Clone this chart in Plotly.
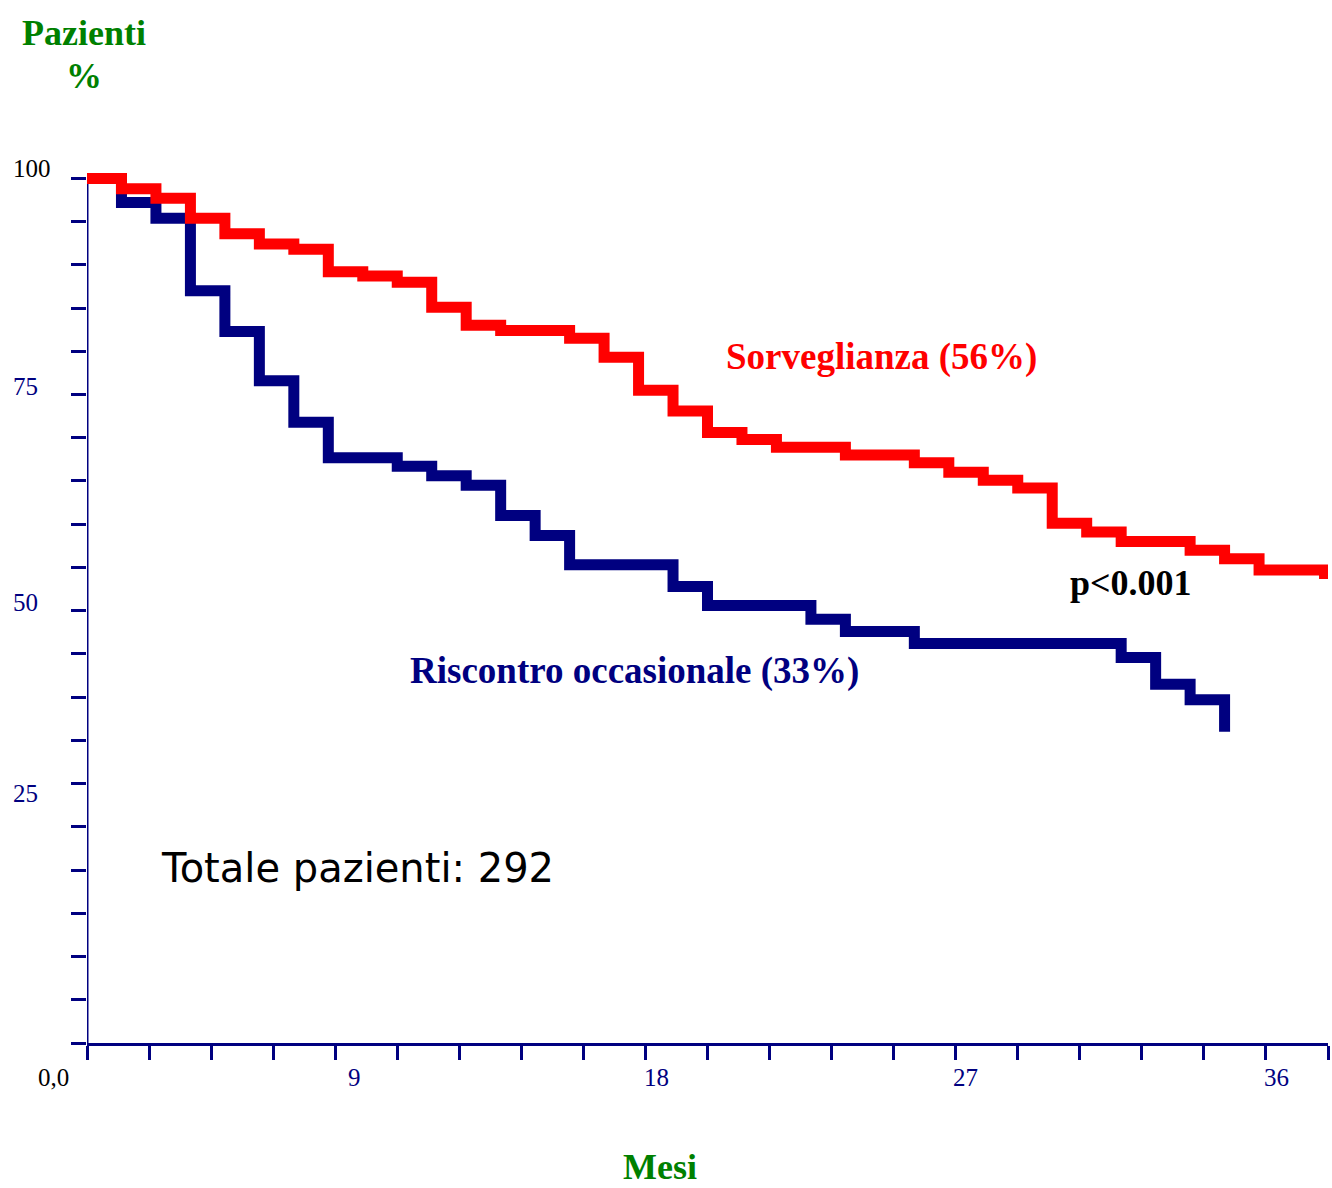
import plotly.graph_objects as go

# ---- data ----
months_sorv = [0, 1, 2, 3, 4, 5, 6, 7, 8, 9, 10, 11, 12, 14, 15, 16, 17, 18, 19, 20,
               22, 24, 25, 26, 27, 28, 29, 30, 32, 33, 34, 35.9, 36]
surv_sorv = [100, 98.8, 97.7, 95.4, 93.6, 92.4, 91.8, 89.2, 88.7, 88.0, 85.1, 83.0, 82.4,
             81.5, 79.3, 75.5, 73.1, 70.6, 69.8, 68.9, 68.0, 67.1, 66.0, 65.1, 64.2,
             60.1, 59.1, 58.0, 57.0, 56.0, 54.7, 54.3, 54.3]

months_occ = [0, 1, 2, 3, 4, 5, 6, 7, 9, 10, 11, 12, 13, 14, 17, 18, 21, 22, 24, 30, 31, 32, 33]
surv_occ = [100, 97.2, 95.4, 87.0, 82.3, 76.6, 71.8, 67.7, 66.7, 65.6, 64.5, 61.0, 58.7,
            55.3, 52.8, 50.6, 49.0, 47.6, 46.2, 44.6, 41.5, 39.7, 36.0]

x_tick_text = ["0,0", "9", "18", "27", "36"]
x_tick_label_px = [53, 354, 656, 965, 1276]
y_tick_text = ["100", "75", "50", "25"]
y_tick_label_pos = [101.2, 75.95, 50.9, 28.9]

NAVY = "#000080"
RED = "#FF0000"
GREEN = "#008000"
SERIF = "Liberation Serif, Times New Roman, serif"

W, H = 1332, 1188
L, R, T, B = 87, 4, 168, 145
PW, PH = W - L - R, H - T - B


def px_x(px):
    return (px - L) / PW


def px_y(py):
    return (H - B - py) / PH


fig = go.Figure()
fig.add_trace(go.Scatter(x=months_occ, y=surv_occ, mode="lines",
                         line=dict(color=NAVY, width=11, shape="hv"),
                         showlegend=False, hoverinfo="skip"))
fig.add_trace(go.Scatter(x=months_sorv, y=surv_sorv, mode="lines",
                         line=dict(color=RED, width=11, shape="hv"),
                         showlegend=False, hoverinfo="skip"))

fig.update_xaxes(range=[0, 36], tick0=0, dtick=1.8, ticks="outside", ticklen=14,
                 tickwidth=3, tickcolor=NAVY, showticklabels=False, showgrid=False,
                 zeroline=False, showline=True, linecolor=NAVY, linewidth=3)
fig.update_yaxes(range=[0, 101.2], tick0=0, dtick=5, ticks="outside", ticklen=15,
                 tickwidth=3, tickcolor=NAVY, showticklabels=False, showgrid=False,
                 zeroline=False, showline=False)

# y axis line from 0 to 100
fig.add_shape(type="line", xref="x", yref="y", x0=0, x1=0, y0=0, y1=100,
              line=dict(color=NAVY, width=3), layer="below")

ann = []
for t, p in zip(x_tick_text, x_tick_label_px):
    ann.append(dict(x=px_x(p), y=px_y(1077), xref="paper", yref="paper", text=t, showarrow=False,
                    xanchor="center", yanchor="middle",
                    font=dict(family=SERIF, size=25, color="black" if t == "0,0" else NAVY)))
for t, p in zip(y_tick_text, y_tick_label_pos):
    ann.append(dict(x=0, y=p, xref="paper", yref="y", text=t, showarrow=False,
                    xanchor="center", yanchor="middle", xshift=-55 if t == "100" else -62,
                    font=dict(family=SERIF, size=25, color="black" if t == "100" else NAVY)))

ann.append(dict(x=px_x(84), y=px_y(33), xref="paper", yref="paper", text="<b>Pazienti</b>",
                showarrow=False, xanchor="center", yanchor="middle",
                font=dict(family=SERIF, size=36, color=GREEN)))
ann.append(dict(x=px_x(84), y=px_y(76), xref="paper", yref="paper", text="<b>%</b>",
                showarrow=False, xanchor="center", yanchor="middle",
                font=dict(family=SERIF, size=36, color=GREEN)))
ann.append(dict(x=px_x(660), y=px_y(1167), xref="paper", yref="paper", text="<b>Mesi</b>",
                showarrow=False, xanchor="center", yanchor="middle",
                font=dict(family=SERIF, size=36, color=GREEN)))
ann.append(dict(x=23.06, y=79.3, xref="x", yref="y", text="<b>Sorveglianza (56%)</b>",
                showarrow=False, xanchor="center", yanchor="middle",
                font=dict(family=SERIF, size=37, color=RED)))
ann.append(dict(x=15.88, y=43.0, xref="x", yref="y", text="<b>Riscontro occasionale (33%)</b>",
                showarrow=False, xanchor="center", yanchor="middle",
                font=dict(family=SERIF, size=37, color=NAVY)))
ann.append(dict(x=30.29, y=53.2, xref="x", yref="y", text="<b>p<0.001</b>",
                showarrow=False, xanchor="center", yanchor="middle",
                font=dict(family=SERIF, size=36, color="black")))
ann.append(dict(x=7.86, y=20.2, xref="x", yref="y", text="Totale pazienti: 292",
                showarrow=False, xanchor="center", yanchor="middle",
                font=dict(family="Comic Sans MS, DejaVu Sans, sans-serif", size=40, color="black")))

fig.update_layout(width=W, height=H, autosize=False,
                  margin=dict(l=L, r=R, t=T, b=B, pad=0),
                  paper_bgcolor="white", plot_bgcolor="white",
                  annotations=ann, showlegend=False)

fig.write_html("out.html", config={"displayModeBar": False},
               post_script="document.body.style.margin='0';document.body.style.overflow='hidden';")
